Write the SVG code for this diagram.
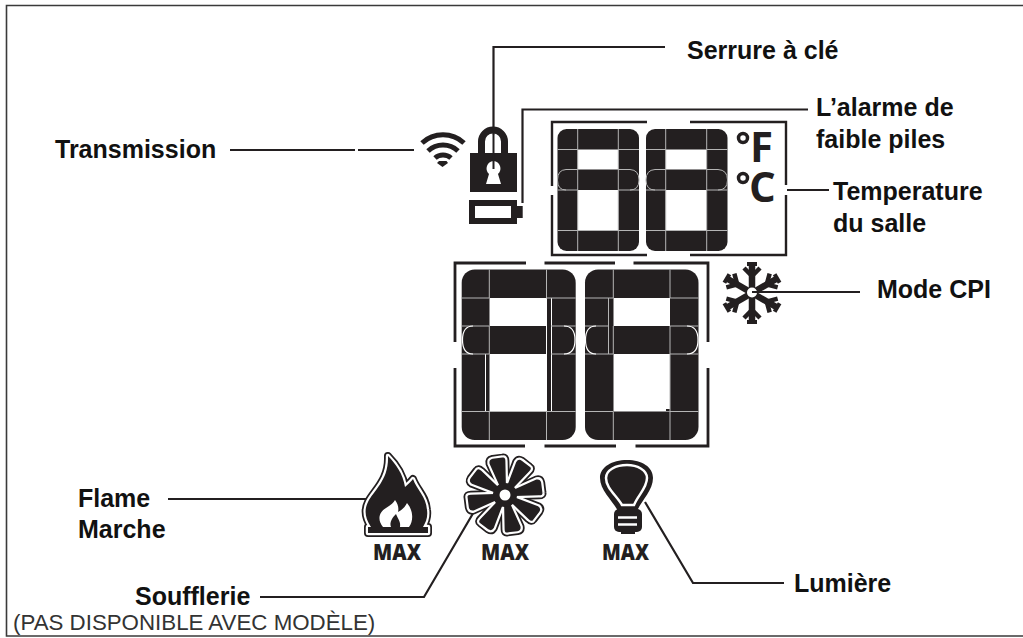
<svg xmlns="http://www.w3.org/2000/svg" width="1023" height="638" viewBox="0 0 1023 638">
<style>
text{font-family:"Liberation Sans",Arial,sans-serif;font-weight:bold;font-size:25px;fill:#111}
.ln{fill:none;stroke:#231f20;stroke-width:2.200}
.br{fill:none;stroke:#231f20;stroke-width:2.400}
.k{fill:#231f20}
.w{fill:#fff}
.g{fill:none;stroke:#b5b5b5;stroke-width:1}
.wl{fill:none;stroke:#fff;stroke-width:1}
text.mx{font-family:"Open Sans","Liberation Sans",sans-serif;font-weight:800;font-size:22px;fill:#231f20}
text.deg{font-family:"Open Sans","Liberation Sans",sans-serif;font-weight:700;font-size:42px;fill:#231f20}
</style>
<defs>
<path id="blade" d="M-3-9 L-8-34 Q-8-38-4-38 L6-37 Q9-37 8-33 L3-9Z"/>
<path id="flamepath" d="M388 456C396 464 403 474 405 487C408 484 411 482 413 479C417 490 426 496 427 510C428 517 426 522 423 527H428V533H368V527H371C365 518 364 510 368 502C374 490 389 480 388 456Z"/>
<g id="arm" fill="none" stroke="#231f20"><path d="M0 0V-30" stroke-width="6.500"/><path d="M-8-25 L0-17 L8-25" stroke-width="4.500"/><path d="M-5-29H5" stroke-width="4"/></g>
</defs>
<rect id="frame-bg" width="1023" height="638" fill="#fff"/>
<path d="M1023 5.500H6.500V636H1023" fill="none" stroke="#3a3a3a" stroke-width="1.600"/>

<g id="connectors">
<path class="ln" d="M230 150H355M358 150H414"/>
<path class="ln" d="M493.500 135V47H665"/>
<path class="ln" d="M522.500 203V109.500H808"/>
<path class="ln" d="M787 190H829"/>
<path class="ln" d="M756 292H860"/>
<path class="ln" d="M168 499H370"/>
<path class="ln" d="M260 597H424L475 510"/>
<path class="ln" d="M645 502L693 583H784"/>
</g>

<g id="wifi" fill="none" stroke="#231f20" stroke-width="5">
<path d="M422 143A31 31 0 0 1 464 143"/>
<path d="M428 151A22 22 0 0 1 458 151"/>
<path d="M435 158A12 12 0 0 1 451 158"/>
<path d="M439 161H446.500L448 163L442.500 167L437 163Z" fill="#231f20" stroke="none"/>
</g>

<g id="lock">
<path d="M481.500 155V141.500a11.500 11.500 0 0 1 23 0V155" fill="none" stroke="#231f20" stroke-width="7"/>
<rect class="k" x="470" y="153" width="47" height="39"/>
<path class="w" d="M493.500 161a7.500 7.500 0 0 1 4.500 13l3 10h-15l3-10a7.500 7.500 0 0 1 4.500-13Z"/>
<path d="M493.500 135V169" stroke="#231f20" stroke-width="2"/>
</g>
<g id="battery">
<rect x="472" y="203" width="42" height="18" fill="#fff" stroke="#231f20" stroke-width="6"/>
<rect class="k" x="517" y="206" width="5.700" height="12"/>
</g>

<g id="temp-display">
<path class="br" d="M552 186V122H647M690 122H786V185M786 195V255H690M647 255H552V195"/>
<g id="temp-digit-1">
<rect class="k" x="557.500" y="129" width="81.500" height="122" rx="9"/>
<rect class="w" x="577.700" y="149.500" width="40.600" height="20"/>
<rect class="w" x="577.700" y="190" width="40.600" height="40.500"/>
<path class="g" d="M577.700 129V251M618.300 129V251M557.500 149.500H577.700M618.300 149.500H639M557.500 190H577.700M618.300 190H639M557.500 230.500H639M566 169.500H577.700M618.300 169.500H630M566 190Q557.500 190 557.500 180Q557.500 170 566 169.500M630 190Q639 190 639 180Q639 170 630 169.500"/>
</g>
<g id="temp-digit-2">
<rect class="k" x="646" y="129" width="81.500" height="122" rx="9"/>
<rect class="w" x="665.700" y="149.500" width="41" height="20"/>
<rect class="w" x="665.700" y="190" width="41" height="40.500"/>
<path class="g" d="M665.700 129V251M706.700 129V251M646 149.500H665.700M706.700 149.500H727.500M646 190H665.700M706.700 190H727.500M646 230.500H727.500M655 169.500H665.700M706.700 169.500H718M655 190Q646 190 646 180Q646 170 655 169.500M718 190Q727.500 190 727.500 180Q727.500 170 718 169.500"/>
</g>
<text class="deg" x="750" y="162">F</text>
<text class="deg" x="749" y="202">C</text>
<circle cx="743" cy="138" r="4.500" fill="none" stroke="#231f20" stroke-width="3.500"/>
<circle cx="743" cy="178" r="4.500" fill="none" stroke="#231f20" stroke-width="3.500"/>
</g>

<g id="main-display">
<path class="br" style="stroke-width:2.800" d="M455 342V263H526M544.500 263H615M633.500 263H708V342M708 368V446H635.500M616 446H544.500M525 446H455V368"/>
<g id="main-digit-1">
<rect class="k" x="461.700" y="269.500" width="114" height="170.500" rx="13"/>
<rect class="w" x="489.500" y="298" width="56.500" height="28"/>
<rect class="w" x="489.500" y="354" width="56.500" height="57.500"/>
<path class="wl" d="M546.500 298V411.500M551.500 298V411.500M485.500 354V411.500"/>
<path class="g" d="M489.300 269.500V298M489.300 326V354M489.300 411.500V440M546.500 269.500V298M546.500 411.500V440M461.700 298H489.300M461.700 326H489.300M461.700 354H489.300M461.700 411.500H575.700M546 298H575.700M551 326H575.700M551 354H575.700"/>
<path class="wl" style="stroke-width:1.200" d="M473 354Q462.500 354 462.500 340Q462.500 326 473 326M564 354Q575 354 575 340Q575 326 564 326"/>
</g>
<g id="main-digit-2">
<rect class="k" x="585" y="269.500" width="113.500" height="170.500" rx="13"/>
<rect class="w" x="613.500" y="298" width="56.500" height="28"/>
<rect class="w" x="613.500" y="354" width="56.500" height="57.500"/>
<rect class="k" x="666" y="409" width="4" height="2"/>
<path class="g" d="M613.300 269.500V298M613.300 326V354M613.300 411.500V440M670 269.500V298M670 326V440M585 298H613.300M670 298H698.500M585 326H608M585 354H613.300M670 326H698.500M670 354H698.500M585 411.500H613.300M670 411.500H698.500M608.500 298V354"/>
<path class="wl" style="stroke-width:1.200" d="M596 354Q585.500 354 585.500 340Q585.500 326 596 326M687 354Q698 354 698 340Q698 326 687 326"/>
</g>
</g>

<g id="snowflake">
<use href="#arm" transform="translate(752 293)"/>
<use href="#arm" transform="translate(752 293) rotate(60)"/>
<use href="#arm" transform="translate(752 293) rotate(120)"/>
<use href="#arm" transform="translate(752 293) rotate(180)"/>
<use href="#arm" transform="translate(752 293) rotate(240)"/>
<use href="#arm" transform="translate(752 293) rotate(300)"/>
<circle cx="752" cy="292.500" r="5" fill="#fff"/>
<path d="M752 292H765" stroke="#231f20" stroke-width="2"/>
</g>

<g id="flame">
<use href="#flamepath" fill="none" stroke="#231f20" stroke-width="8" stroke-linejoin="round"/>
<use href="#flamepath" fill="none" stroke="#fff" stroke-width="4.500" stroke-linejoin="round"/>
<use href="#flamepath" fill="#231f20"/>
<path class="w" d="M383 527C377 520 379 512 386 508C391 505 394 502 395 500C398 504 399 508 398 512C402 510 405 507 407 503C413 510 414 520 409 527Z"/>
<path class="k" d="M391 527C389 522 393 517 396 514C398 519 401 522 400 527Z"/>
<text class="mx" x="373" y="560" textLength="48" lengthAdjust="spacingAndGlyphs">MAX</text>
</g>

<g id="fan">
<g fill="none" stroke="#231f20" stroke-width="8" stroke-linejoin="round">
<use href="#blade" transform="translate(505 495) rotate(-13)"/>
<use href="#blade" transform="translate(505 495) rotate(32)"/>
<use href="#blade" transform="translate(505 495) rotate(77)"/>
<use href="#blade" transform="translate(505 495) rotate(122)"/>
<use href="#blade" transform="translate(505 495) rotate(167)"/>
<use href="#blade" transform="translate(505 495) rotate(212)"/>
<use href="#blade" transform="translate(505 495) rotate(257)"/>
<use href="#blade" transform="translate(505 495) rotate(302)"/>
</g>
<g fill="none" stroke="#fff" stroke-width="4.500" stroke-linejoin="round">
<use href="#blade" transform="translate(505 495) rotate(-13)"/>
<use href="#blade" transform="translate(505 495) rotate(32)"/>
<use href="#blade" transform="translate(505 495) rotate(77)"/>
<use href="#blade" transform="translate(505 495) rotate(122)"/>
<use href="#blade" transform="translate(505 495) rotate(167)"/>
<use href="#blade" transform="translate(505 495) rotate(212)"/>
<use href="#blade" transform="translate(505 495) rotate(257)"/>
<use href="#blade" transform="translate(505 495) rotate(302)"/>
</g>
<g fill="#231f20">
<use href="#blade" transform="translate(505 495) rotate(-13)"/>
<use href="#blade" transform="translate(505 495) rotate(32)"/>
<use href="#blade" transform="translate(505 495) rotate(77)"/>
<use href="#blade" transform="translate(505 495) rotate(122)"/>
<use href="#blade" transform="translate(505 495) rotate(167)"/>
<use href="#blade" transform="translate(505 495) rotate(212)"/>
<use href="#blade" transform="translate(505 495) rotate(257)"/>
<use href="#blade" transform="translate(505 495) rotate(302)"/>
</g>
<circle class="k" cx="505" cy="495" r="12"/>
<circle class="w" cx="505" cy="495" r="5.500"/>
<text class="mx" x="481" y="560" textLength="48" lengthAdjust="spacingAndGlyphs">MAX</text>
</g>

<g id="bulb">
<path class="k" d="M618 511C612 500 600 490 600 478C600 467 612 460 627 460C642 460 653 467 653 478C653 490 642 500 637 511Z"/>
<path d="M622 505C616 495 606 488 606 478C606 470 616 465 627 465C637 465 647 470 647 478C647 488 638 495 634 505Z" fill="#231f20" stroke="#fff" stroke-width="2.500"/>
<rect class="k" x="614" y="509" width="28" height="23" rx="5"/>
<path d="M618 517.500H637M618 524.500H637" stroke="#fff" stroke-width="2.500"/>
<rect class="k" x="621" y="531" width="14" height="3"/>
<text class="mx" x="602" y="560" textLength="47" lengthAdjust="spacingAndGlyphs">MAX</text>
</g>

<g id="labels">
<text x="687" y="59">Serrure à clé</text>
<text x="816" y="116">L’alarme de</text>
<text x="816" y="148">faible piles</text>
<text x="55" y="158">Transmission</text>
<text x="833" y="200">Temperature</text>
<text x="833" y="232">du salle</text>
<text x="877" y="298">Mode CPI</text>
<text x="78" y="507">Flame</text>
<text x="78" y="538">Marche</text>
<text x="135" y="605">Soufflerie</text>
<text x="794" y="592">Lumière</text>
<text x="13" y="630" style="font-weight:normal;font-size:22.300px;fill:#333">(PAS DISPONIBLE AVEC MODÈLE)</text>
</g>
</svg>
